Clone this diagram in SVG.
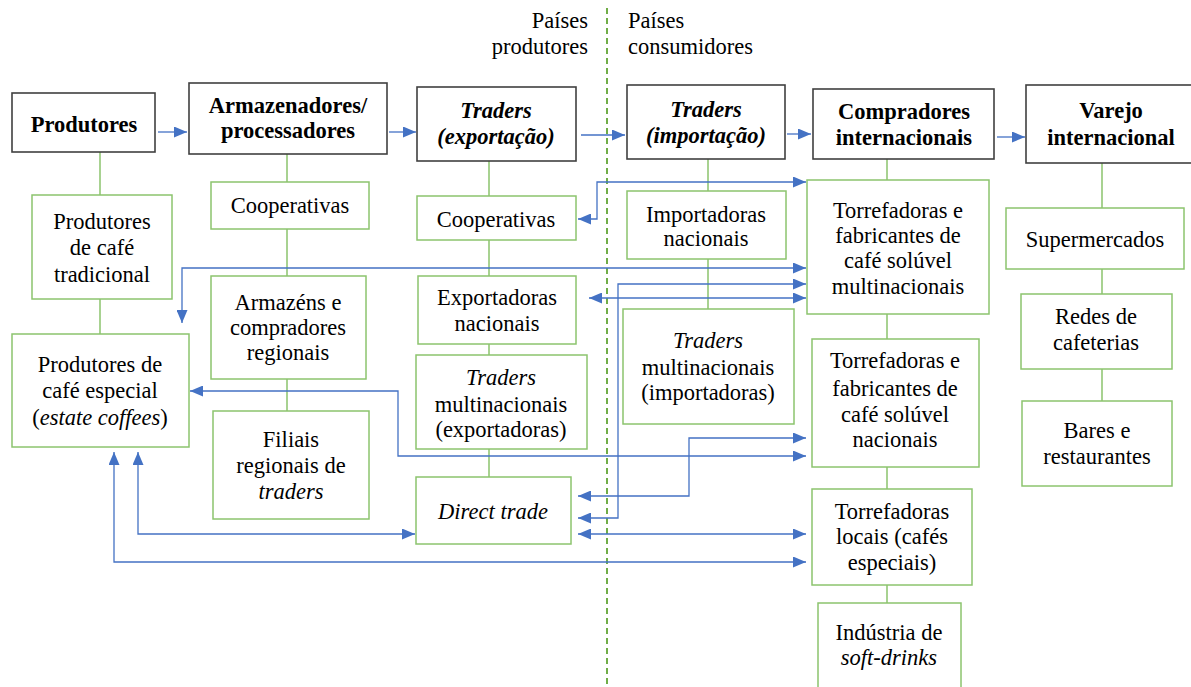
<svg xmlns="http://www.w3.org/2000/svg" width="1191" height="687" viewBox="0 0 1191 687">
<style>
.hdr{fill:#fff;stroke:#404040;stroke-width:1.6}
.gb{fill:#fff;stroke:#8CC46E;stroke-width:1.5}
.gl{fill:none;stroke:#8CC46E;stroke-width:1.5}
.bl{fill:none;stroke:#4472C4;stroke-width:1.3}
.dash{fill:none;stroke:#70AD47;stroke-width:2;stroke-dasharray:6 4}
text{font-family:'Liberation Serif','Times New Roman',serif;font-size:22.5px;fill:#000;text-anchor:middle}
.b{font-weight:bold}
.i{font-style:italic}
.r{text-anchor:end}
.l{text-anchor:start}
</style>
<defs>
<marker id="ah" viewBox="0 0 13 11" refX="13" refY="5.5" markerWidth="13" markerHeight="11" markerUnits="userSpaceOnUse" orient="auto-start-reverse">
<path d="M0,0 L13,5.5 L0,11 z" fill="#4472C4"/>
</marker>
</defs>
<rect width="1191" height="687" fill="#fff"/>

<g id="divider">
<path class="dash" d="M607,8 V687"/>
<text class="r" x="588" y="28">Países</text>
<text class="r" x="588" y="54">produtores</text>
<text class="l" x="628" y="28">Países</text>
<text class="l" x="628" y="54">consumidores</text>
</g>

<g id="tree-lines">
<path class="gl" d="M100,152 V195 M100,299 V334 M287,154 V182 M287,229 V276 M287,379 V411 M489,161 V196 M489,240 V276 M489,344 V355 M489,449 V477 M708,159 V191 M708,259 V309 M887,159 V180 M887,314 V339 M887,467 V489 M887,585 V603 M1102,163 V208 M1102,269 V294 M1102,369 V401"/>
</g>

<g id="h-produtores"><rect class="hdr" x="12" y="93" width="143" height="59"/><text class="b" x="84" y="132">Produtores</text></g>
<g id="h-armazenadores"><rect class="hdr" x="189" y="83" width="198" height="71"/><text class="b" x="288" y="113">Armazenadores/</text><text class="b" x="288" y="138">processadores</text></g>
<g id="h-traders-exp"><rect class="hdr" x="417" y="87" width="159" height="74"/><text class="b i" x="496" y="118">Traders</text><text class="b i" x="496" y="144">(exportação)</text></g>
<g id="h-traders-imp"><rect class="hdr" x="627" y="85" width="158" height="74"/><text class="b i" x="706" y="117">Traders</text><text class="b i" x="706" y="143">(importação)</text></g>
<g id="h-compradores"><rect class="hdr" x="813" y="89" width="181" height="70"/><text class="b" x="904" y="119">Compradores</text><text class="b" x="904" y="145">internacionais</text></g>
<g id="h-varejo"><rect class="hdr" x="1026" y="85" width="170" height="78"/><text class="b" x="1111" y="118">Varejo</text><text class="b" x="1111" y="145">internacional</text></g>

<g id="n-prod-trad"><rect class="gb" x="32" y="195" width="140" height="104"/><text x="102" y="229">Produtores</text><text x="102" y="255">de café</text><text x="102" y="282">tradicional</text></g>
<g id="n-prod-esp"><rect class="gb" x="12" y="334" width="177" height="113"/><text x="100" y="372">Produtores de</text><text x="100" y="398">café especial</text><text x="100" y="425">(<tspan class="i">estate coffees</tspan>)</text></g>
<g id="n-coop1"><rect class="gb" x="211" y="182" width="158" height="47"/><text x="290" y="213">Cooperativas</text></g>
<g id="n-armazens"><rect class="gb" x="211" y="276" width="155" height="103"/><text x="288" y="310">Armazéns e</text><text x="288" y="335">compradores</text><text x="288" y="360">regionais</text></g>
<g id="n-filiais"><rect class="gb" x="213" y="411" width="156" height="108"/><text x="291" y="447">Filiais</text><text x="291" y="473">regionais de</text><text class="i" x="291" y="499">traders</text></g>
<g id="n-coop2"><rect class="gb" x="417" y="196" width="159" height="44"/><text x="496" y="227">Cooperativas</text></g>
<g id="n-export"><rect class="gb" x="418" y="276" width="158" height="68"/><text x="497" y="305">Exportadoras</text><text x="497" y="331">nacionais</text></g>
<g id="n-traders-mn-exp"><rect class="gb" x="416" y="355" width="171" height="94"/><text class="i" x="501" y="385">Traders</text><text x="501" y="412">multinacionais</text><text x="501" y="437">(exportadoras)</text></g>
<g id="n-direct"><rect class="gb" x="416" y="477" width="155" height="67"/><text class="i" x="493" y="519">Direct trade</text></g>
<g id="n-import"><rect class="gb" x="627" y="191" width="159" height="68"/><text x="706" y="222">Importadoras</text><text x="706" y="246">nacionais</text></g>
<g id="n-traders-mn-imp"><rect class="gb" x="623" y="309" width="171" height="115"/><text class="i" x="708" y="348">Traders</text><text x="708" y="375">multinacionais</text><text x="708" y="400">(importadoras)</text></g>
<g id="n-torr-mn"><rect class="gb" x="807" y="180" width="182" height="134"/><text x="898" y="218">Torrefadoras e</text><text x="898" y="243">fabricantes de</text><text x="898" y="268">café solúvel</text><text x="898" y="294">multinacionais</text></g>
<g id="n-torr-nac"><rect class="gb" x="812" y="339" width="167" height="128"/><text x="895" y="368">Torrefadoras e</text><text x="895" y="396">fabricantes de</text><text x="895" y="422">café solúvel</text><text x="895" y="447">nacionais</text></g>
<g id="n-torr-loc"><rect class="gb" x="812" y="489" width="160" height="96"/><text x="892" y="519">Torrefadoras</text><text x="892" y="544">locais (cafés</text><text x="892" y="570">especiais)</text></g>
<g id="n-soft"><rect class="gb" x="818" y="603" width="143" height="92"/><text x="889" y="640">Indústria de</text><text class="i" x="889" y="665">soft-drinks</text></g>
<g id="n-super"><rect class="gb" x="1006" y="208" width="178" height="61"/><text x="1095" y="247">Supermercados</text></g>
<g id="n-redes"><rect class="gb" x="1021" y="294" width="151" height="75"/><text x="1096" y="324">Redes de</text><text x="1096" y="350">cafeterias</text></g>
<g id="n-bares"><rect class="gb" x="1022" y="401" width="150" height="85"/><text x="1097" y="438">Bares e</text><text x="1097" y="464">restaurantes</text></g>

<g id="connectors">
<path class="bl" marker-end="url(#ah)" d="M158,132 H187"/>
<path class="bl" marker-end="url(#ah)" d="M389,132 H416"/>
<path class="bl" marker-end="url(#ah)" d="M581,135 H625"/>
<path class="bl" marker-end="url(#ah)" d="M787,134 H811"/>
<path class="bl" marker-end="url(#ah)" d="M997,137 H1025"/>
<path class="bl" marker-start="url(#ah)" marker-end="url(#ah)" d="M578,219 H597 V182 H806"/>
<path class="bl" marker-start="url(#ah)" marker-end="url(#ah)" d="M182,323 V268 H806"/>
<path class="bl" marker-start="url(#ah)" marker-end="url(#ah)" d="M589,298 H806"/>
<path class="bl" marker-start="url(#ah)" marker-end="url(#ah)" d="M578,518 H618 V284 H806"/>
<path class="bl" marker-start="url(#ah)" marker-end="url(#ah)" d="M190,391 H398 V456 H806"/>
<path class="bl" marker-start="url(#ah)" marker-end="url(#ah)" d="M578,496 H689 V438 H806"/>
<path class="bl" marker-start="url(#ah)" marker-end="url(#ah)" d="M578,534 H806"/>
<path class="bl" marker-start="url(#ah)" marker-end="url(#ah)" d="M138,452 V534 H415"/>
<path class="bl" marker-start="url(#ah)" marker-end="url(#ah)" d="M114,452 V562 H806"/>
</g>
</svg>
